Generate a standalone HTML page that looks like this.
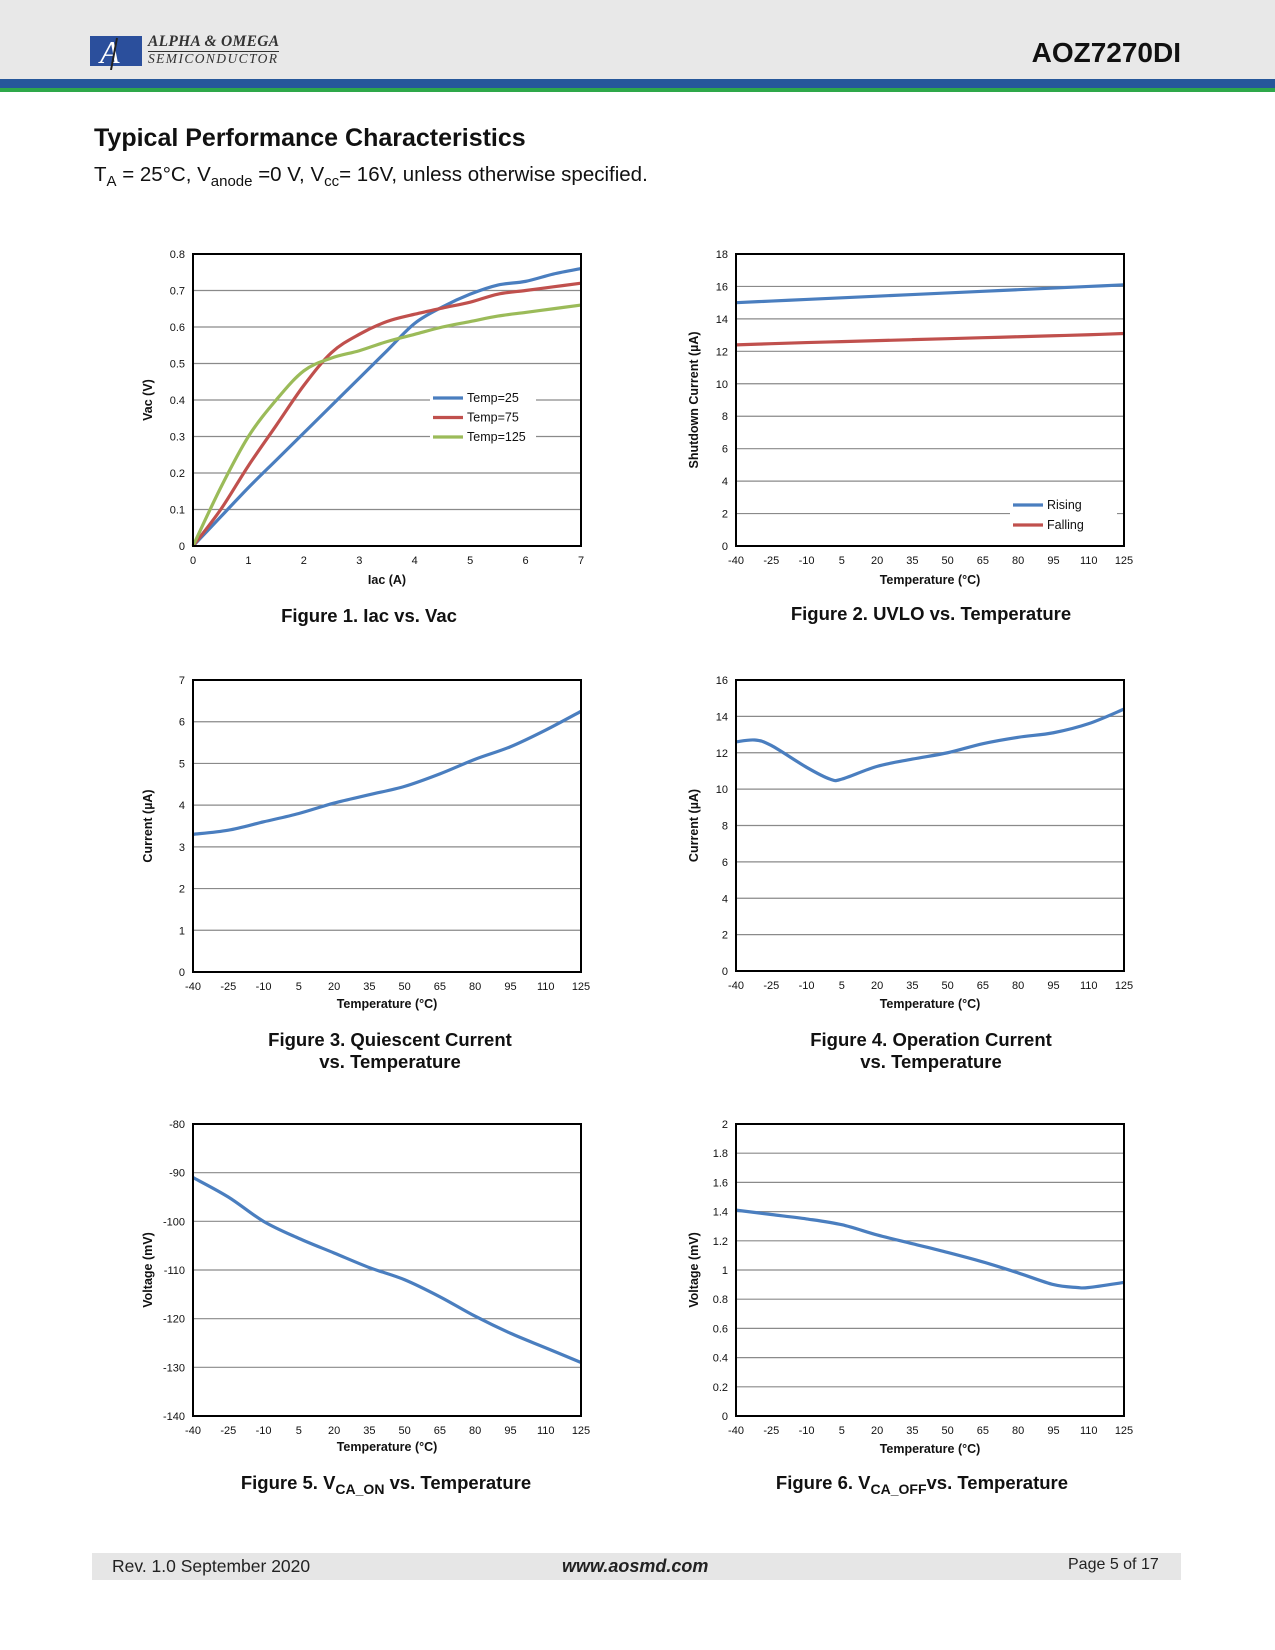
<!DOCTYPE html>
<html><head><meta charset="utf-8">
<style>
body{margin:0;width:1275px;height:1650px;background:#fff;font-family:"Liberation Sans",Arial,sans-serif;position:relative;overflow:hidden}
.abs{position:absolute}
</style></head><body>
<div class="abs" style="left:0;top:0;width:1275px;height:79px;background:#e8e8e8"></div>
<div class="abs" style="left:0;top:79px;width:1275px;height:9px;background:#26579a"></div>
<div class="abs" style="left:0;top:88px;width:1275px;height:4px;background:#2ea84a"></div>
<div class="abs" style="left:90px;top:34px;width:210px;height:36px">
  <svg width="56" height="36"><rect x="0" y="2" width="52" height="30" fill="#2b4f9c"/><text x="10" y="29" font-family="Liberation Serif" font-style="italic" font-size="32" fill="#fff">A</text><line x1="27" y1="4" x2="21" y2="36" stroke="#222" stroke-width="2"/></svg>
  <div class="abs" style="left:58px;top:-1px;font-family:'Liberation Serif',serif;font-style:italic;font-weight:bold;font-size:15.5px;color:#333;border-bottom:1px solid #333;letter-spacing:0.3px">ALPHA &amp; OMEGA</div>
  <div class="abs" style="left:58px;top:17px;font-family:'Liberation Serif',serif;font-style:italic;font-size:13.5px;color:#333;letter-spacing:1.4px">SEMICONDUCTOR</div>
</div>
<div class="abs" style="right:94px;top:37px;font-weight:bold;font-size:28px;color:#111">AOZ7270DI</div>
<div class="abs" style="left:94px;top:124px;font-weight:bold;font-size:25px;color:#111">Typical Performance Characteristics</div>
<div class="abs" style="left:94px;top:163px;font-size:20.5px;color:#111">T<sub style="font-size:15px">A</sub> = 25°C, V<sub style="font-size:15px">anode</sub> =0 V, V<sub style="font-size:15px">cc</sub>= 16V, unless otherwise specified.</div>

<svg id="charts" class="abs" style="left:0;top:0" width="1275" height="1650"></svg>

<div class="abs" style="left:92px;top:1553px;width:1089px;height:27px;background:#e6e6e6"></div>
<div class="abs" style="left:112px;top:1556px;font-size:17.5px;color:#222">Rev. 1.0 September 2020</div>
<div class="abs" style="left:562px;top:1556px;font-size:18px;font-weight:bold;font-style:italic;color:#222">www.aosmd.com</div>
<div class="abs" style="left:1068px;top:1556px;font-size:16px;color:#222">Page 5 of 17</div>

<script>
// Figure 1 data
const f1X = [0,0.5,1,1.5,2,2.5,3,3.5,4,4.5,5,5.5,6,6.5,7];
const f1T25 = [0,0.08,0.16,0.235,0.31,0.385,0.46,0.535,0.61,0.655,0.69,0.715,0.725,0.745,0.76];
const f1T75 = [0,0.1,0.22,0.33,0.44,0.53,0.58,0.615,0.635,0.652,0.668,0.69,0.7,0.71,0.72];
const f1T125 = [0,0.16,0.3,0.4,0.48,0.515,0.535,0.56,0.58,0.6,0.615,0.63,0.64,0.65,0.66];
const f1XTicks = ["0","1","2","3","4","5","6","7"];
const f1YTicks = ["0","0.1","0.2","0.3","0.4","0.5","0.6","0.7","0.8"];
// Temperature categories
const tempTicks = ["-40","-25","-10","5","20","35","50","65","80","95","110","125"];
const tempX = [-40,-25,-10,5,20,35,50,65,80,95,110,125];
// Figure 2
const f2Rising = [15.0,15.1,15.2,15.3,15.4,15.5,15.6,15.7,15.8,15.9,16.0,16.1];
const f2Falling = [12.4,12.47,12.54,12.6,12.66,12.72,12.78,12.84,12.9,12.96,13.02,13.1];
const f2YTicks = ["0","2","4","6","8","10","12","14","16","18"];
// Figure 3
const f3Y = [3.3,3.4,3.6,3.8,4.05,4.25,4.45,4.75,5.1,5.4,5.8,6.25];
const f3YTicks = ["0","1","2","3","4","5","6","7"];
// Figure 4
const f4X = [-40,-32,-25,-10,0,5,20,35,50,65,80,95,110,125];
const f4Y = [12.6,12.7,12.4,11.2,10.55,10.55,11.25,11.65,12.0,12.5,12.85,13.1,13.6,14.4];
const f4YTicks = ["0","2","4","6","8","10","12","14","16"];
// Figure 5
const f5Y = [-91,-95,-100,-103.5,-106.5,-109.5,-112,-115.5,-119.5,-123,-126,-129];
const f5YTicks = ["-140","-130","-120","-110","-100","-90","-80"];
// Figure 6
const f6X = [-40,-25,-10,5,20,35,50,65,80,95,105,110,125];
const f6Y = [1.41,1.38,1.35,1.31,1.24,1.18,1.12,1.055,0.98,0.9,0.88,0.88,0.915];
const f6YTicks = ["0","0.2","0.4","0.6","0.8","1","1.2","1.4","1.6","1.8","2"];

const NS="http://www.w3.org/2000/svg";
const root=document.getElementById('charts');
function mk(tag,attrs,parent){const e=document.createElementNS(NS,tag);for(const k in attrs)e.setAttribute(k,attrs[k]);(parent||root).appendChild(e);return e;}
function txt(s,x,y,size,anchor,parent,bold){const t=mk('text',{x:x,y:y,'font-size':size,'text-anchor':anchor,'font-family':'Liberation Sans, Arial, sans-serif',fill:'#111','font-weight':bold?'bold':'normal'},parent);t.textContent=s;return t;}
function smooth(pts){let d='M'+pts[0][0]+','+pts[0][1];for(let i=0;i<pts.length-1;i++){const p0=pts[Math.max(0,i-1)],p1=pts[i],p2=pts[i+1],p3=pts[Math.min(pts.length-1,i+2)];const c1=[p1[0]+(p2[0]-p0[0])/6,p1[1]+(p2[1]-p0[1])/6],c2=[p2[0]-(p3[0]-p1[0])/6,p2[1]-(p3[1]-p1[1])/6];d+=' C'+c1[0]+','+c1[1]+' '+c2[0]+','+c2[1]+' '+p2[0]+','+p2[1];}return d;}

function chart(cfg){
  const g=mk('g',{});
  
  
  const L=cfg.L,R=cfg.R,T=cfg.T,B=cfg.B;
  const ymin=parseFloat(cfg.yTicks[0]),ymax=parseFloat(cfg.yTicks[cfg.yTicks.length-1]);
  const xs=v=>L+(v-cfg.xmin)/(cfg.xmax-cfg.xmin)*(R-L);
  const ys=v=>B-(v-ymin)/(ymax-ymin)*(B-T);
  cfg.yTicks.forEach((t,i)=>{const v=parseFloat(t),y=ys(v);
    if(i>0&&i<cfg.yTicks.length-1){const gl=mk('line',{x1:L,x2:R,y1:y,y2:y,stroke:'#8a8a8a','stroke-width':1.2},g);
      
      }
    const tl=txt(t,L-8,y+4,11,'end',g);
    
    
  });
  const n=cfg.xTicks.length;
  cfg.xTicks.forEach((t,i)=>{const x=L+i*(R-L)/(n-1);
    const tl=txt(t,x,B+18,11,'middle',g);
    
    });
  if(cfg.legend){const lg=mk('rect',cfg.legend.box,g);lg.setAttribute('fill','#fff');
    
    }
  cfg.series.forEach(s=>{
    const pts=s.x.map((xv,i)=>[xs(xv),ys(s.y[i])]);
    const p=mk('path',{d:smooth(pts),fill:'none',stroke:s.color,'stroke-width':3.2,'stroke-linejoin':'round'},g);
    
    
  });
  if(cfg.legend){cfg.legend.items.forEach((it,i)=>{const y=cfg.legend.y0+i*cfg.legend.dy;
    const ll=mk('line',{x1:cfg.legend.x0,x2:cfg.legend.x0+cfg.legend.len,y1:y,y2:y,stroke:it.color,'stroke-width':3.2},g);
    
    
    const lt=txt(it.label,cfg.legend.x0+cfg.legend.len+4,y+4,12.5,'start',g);
    
    });}
  const fr=mk('rect',{x:L,y:T,width:R-L,height:B-T,fill:'none',stroke:'#000','stroke-width':2},g);
  
  
  const xt=txt(cfg.xTitle,(L+R)/2,B+cfg.xTitleDy,12.5,'middle',g,true);
  
  
  const yt=txt(cfg.yTitle,0,0,12.5,'middle',g,true);
  yt.setAttribute('transform','translate('+(cfg.yTitleX)+','+((T+B)/2)+') rotate(-90)');
  
  
  cfg.caption.forEach((c,i)=>{const ct=mk('text',{x:cfg.capX,y:cfg.capY+i*22,'font-size':18.5,'font-weight':'bold','text-anchor':'middle','font-family':'Liberation Sans, Arial, sans-serif',fill:'#111'},g);
    ct.innerHTML=c;
    
    });
}
const blue='#4a7ebf',red='#c0504d',green='#9bbb59';
chart({name:'figure-1-chart',L:193,R:581,T:254,B:546,xmin:0,xmax:7,yTicks:f1YTicks,xTicks:f1XTicks,xTitle:'Iac (A)',xTitleDy:38,yTitle:'Vac (V)',yTitleX:152,
  series:[{name:'series-temp-25',x:f1X,y:f1T25,color:blue},{name:'series-temp-75',x:f1X,y:f1T75,color:red},{name:'series-temp-125',x:f1X,y:f1T125,color:green}],
  legend:{box:{x:430,y:390,width:106,height:55},x0:433,y0:398,dy:19.5,len:30,items:[{label:'Temp=25',color:blue},{label:'Temp=75',color:red},{label:'Temp=125',color:green}]},
  caption:['Figure 1. Iac vs. Vac'],capX:369,capY:622});
chart({name:'figure-2-chart',L:736,R:1124,T:254,B:546,xmin:-40,xmax:125,yTicks:f2YTicks,xTicks:tempTicks,xTitle:'Temperature (°C)',xTitleDy:38,yTitle:'Shutdown Current (µA)',yTitleX:698,
  series:[{name:'series-rising',x:tempX,y:f2Rising,color:blue},{name:'series-falling',x:tempX,y:f2Falling,color:red}],
  legend:{box:{x:1010,y:496,width:107,height:40},x0:1013,y0:505,dy:20,len:30,items:[{label:'Rising',color:blue},{label:'Falling',color:red}]},
  caption:['Figure 2. UVLO vs. Temperature'],capX:931,capY:620});
chart({name:'figure-3-chart',L:193,R:581,T:680,B:972,xmin:-40,xmax:125,yTicks:f3YTicks,xTicks:tempTicks,xTitle:'Temperature (°C)',xTitleDy:36,yTitle:'Current (µA)',yTitleX:152,
  series:[{name:'series-quiescent-current',x:tempX,y:f3Y,color:blue}],
  caption:['Figure 3. Quiescent Current','vs. Temperature'],capX:390,capY:1046});
chart({name:'figure-4-chart',L:736,R:1124,T:680,B:971,xmin:-40,xmax:125,yTicks:f4YTicks,xTicks:tempTicks,xTitle:'Temperature (°C)',xTitleDy:37,yTitle:'Current (µA)',yTitleX:698,
  series:[{name:'series-operation-current',x:f4X,y:f4Y,color:blue}],
  caption:['Figure 4. Operation Current','vs. Temperature'],capX:931,capY:1046});
chart({name:'figure-5-chart',L:193,R:581,T:1124,B:1416,xmin:-40,xmax:125,yTicks:f5YTicks,xTicks:tempTicks,xTitle:'Temperature (°C)',xTitleDy:35,yTitle:'Voltage (mV)',yTitleX:152,
  series:[{name:'series-vca-on',x:tempX,y:f5Y,color:blue}],
  caption:['Figure 5. V<tspan font-size="14" dy="5">CA_ON</tspan><tspan dy="-5"> vs. Temperature</tspan>'],capX:386,capY:1489});
chart({name:'figure-6-chart',L:736,R:1124,T:1124,B:1416,xmin:-40,xmax:125,yTicks:f6YTicks,xTicks:tempTicks,xTitle:'Temperature (°C)',xTitleDy:37,yTitle:'Voltage (mV)',yTitleX:698,
  series:[{name:'series-vca-off',x:f6X,y:f6Y,color:blue}],
  caption:['Figure 6. V<tspan font-size="14" dy="5">CA_OFF</tspan><tspan dy="-5">vs. Temperature</tspan>'],capX:922,capY:1489});
</script>
</body></html>
